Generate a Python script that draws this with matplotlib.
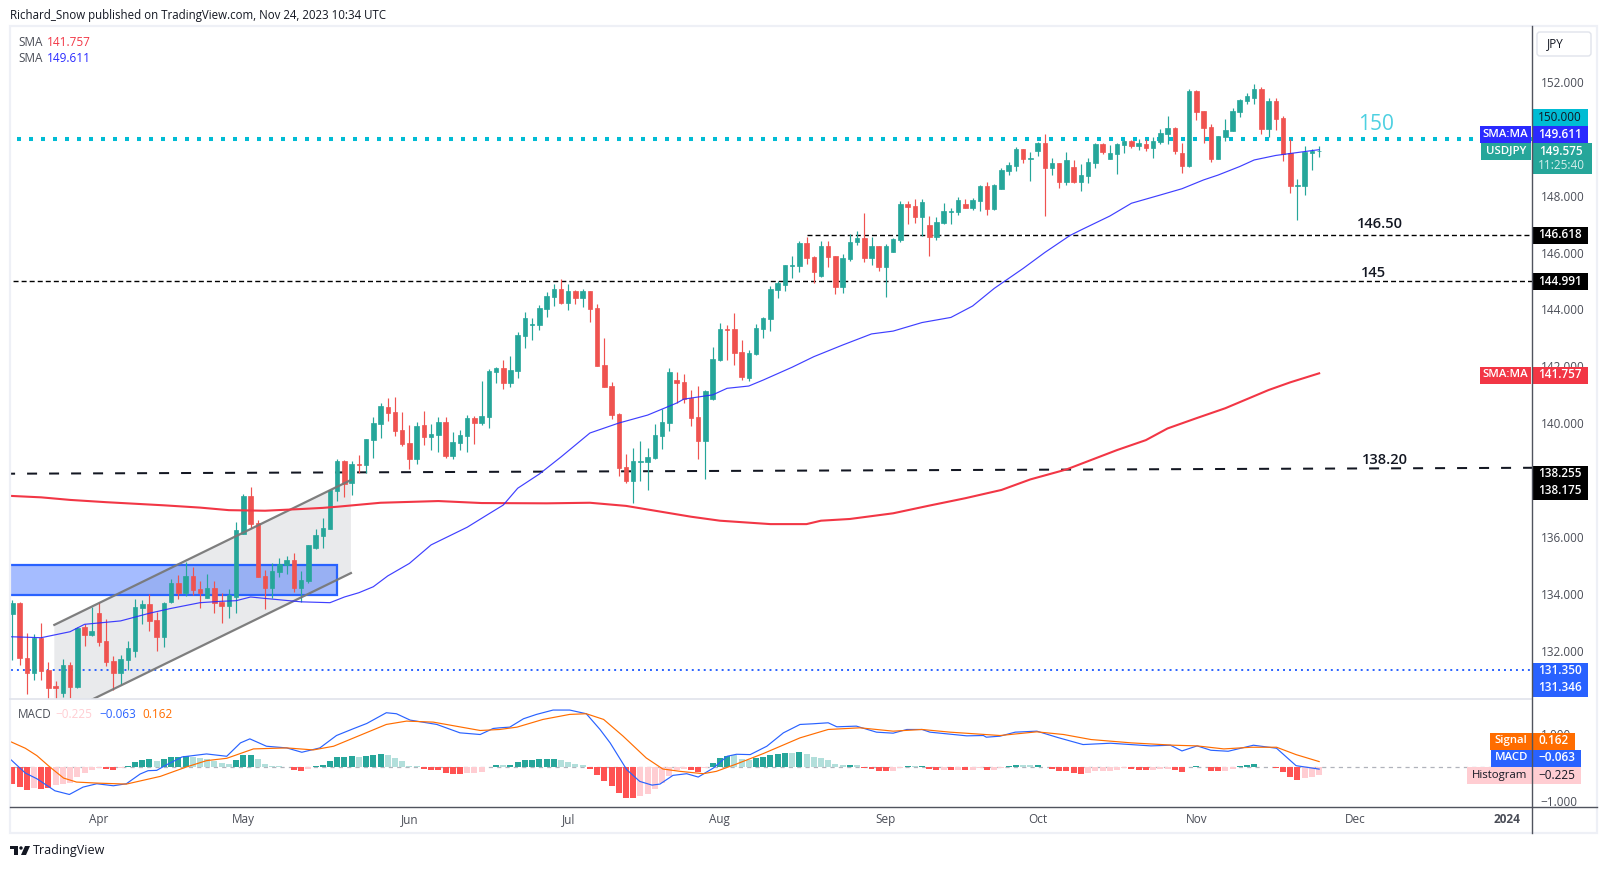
import matplotlib
matplotlib.use("Agg")
import matplotlib.pyplot as plt
from matplotlib.patches import Rectangle, Polygon, FancyBboxPatch, Circle

plt.rcParams['font.family'] = ['Open Sans', 'DejaVu Sans']
plt.rcParams['lines.scale_dashes'] = False

open_ = [133.32,133.68,131.76,131.24,132.47,131.35,130.76,130.53,131.51,130.75,
 132.84,132.55,133.34,132.35,131.65,131.23,131.69,132.00,133.51,133.65,
 133.09,132.50,133.72,134.39,134.04,134.64,134.18,133.87,134.22,133.72,
 133.58,133.90,136.11,137.45,136.50,134.64,134.22,134.78,135.02,135.20,
 134.22,134.46,135.62,136.04,136.29,137.62,138.68,137.90,138.57,138.54,
 139.41,139.98,140.57,140.40,139.77,139.31,138.75,139.94,139.52,139.59,
 140.05,138.85,139.31,139.55,140.19,140.01,140.22,141.80,141.94,141.42,
 141.84,143.07,143.47,143.45,144.02,144.44,144.72,144.23,144.65,144.40,
 144.65,144.05,142.05,141.31,140.33,138.47,137.97,138.65,138.64,138.78,
 139.55,140.01,141.52,141.45,140.89,140.22,139.38,140.85,142.22,143.31,
 143.31,142.50,141.59,142.44,143.31,143.66,144.68,144.86,145.54,145.53,
 146.33,145.84,145.17,146.23,145.88,144.79,145.77,146.37,146.51,145.81,
 146.23,145.49,146.02,146.44,147.70,147.63,147.25,146.97,146.55,147.04,
 147.43,147.42,147.70,147.56,147.81,148.34,147.53,148.23,148.86,149.04,
 149.64,149.30,149.57,149.85,148.97,149.14,148.48,149.00,148.48,148.69,
 149.14,149.81,149.28,149.46,149.78,149.92,149.74,149.81,149.67,149.88,
 150.16,150.37,149.49,149.04,151.67,150.97,150.41,149.28,150.06,150.27,
 150.94,151.32,151.43,151.74,150.34,151.32,150.72,149.49,148.35,148.34,149.50,149.55]
high = [133.80,133.71,132.62,132.59,132.99,131.61,130.95,131.72,131.63,132.86,
 132.95,133.54,133.71,133.13,131.83,131.86,132.35,133.83,133.79,134.00,
 133.37,133.72,134.52,134.67,135.13,134.95,134.46,134.71,134.46,134.04,
 134.18,136.54,137.52,137.76,136.61,134.85,135.10,135.27,135.34,135.45,
 134.81,135.73,136.29,136.68,137.69,138.75,138.71,138.68,138.89,139.45,
 140.22,140.71,140.89,140.92,140.40,139.94,140.05,140.43,139.98,140.22,
 140.22,139.70,139.77,140.29,140.26,141.49,141.91,141.98,142.23,142.36,
 143.21,143.90,143.70,144.16,144.61,144.89,145.07,144.89,144.68,144.72,
 144.65,144.19,143.00,141.45,140.36,138.92,139.13,139.38,139.13,139.98,
 140.50,141.94,141.80,141.73,141.17,141.31,141.17,142.68,143.52,143.45,
 143.88,142.93,142.58,143.49,143.73,144.82,145.00,145.56,145.88,146.40,
 146.55,145.88,146.40,146.40,145.88,145.95,146.65,146.75,147.39,146.55,
 146.23,146.30,146.51,147.81,147.81,147.88,147.88,147.28,147.25,147.74,
 147.56,147.95,147.88,147.91,148.37,148.48,148.41,148.97,149.18,149.71,
 149.64,149.53,149.88,150.16,149.32,149.14,149.53,149.25,149.11,149.32,
 149.85,149.85,149.78,149.85,149.95,149.95,149.99,149.99,150.06,150.34,
 150.79,150.41,149.85,151.74,151.71,150.97,150.51,150.09,150.69,151.08,
 151.39,151.60,151.92,151.81,151.43,151.43,150.79,149.99,148.58,149.74,149.62,149.75]
low = [131.69,131.51,130.49,130.99,130.99,130.32,130.32,130.40,130.35,130.70,
 132.18,132.53,132.18,131.48,130.63,130.81,131.34,131.79,132.95,132.71,
 132.00,132.14,133.69,133.83,133.94,133.97,133.51,133.87,133.34,132.99,
 133.16,133.34,136.11,136.31,134.60,133.48,133.87,134.60,134.71,134.08,
 133.72,134.39,135.59,135.62,136.29,137.27,137.41,137.48,138.24,138.24,
 138.78,139.49,140.08,139.55,139.20,138.40,138.57,139.24,139.06,138.99,
 138.78,138.75,139.06,138.99,139.27,139.94,139.84,141.42,141.21,141.28,
 141.59,142.65,142.93,143.28,143.74,144.12,144.19,143.98,144.19,144.09,
 143.56,142.01,141.28,140.15,138.15,137.90,137.20,137.97,137.66,138.75,
 139.10,139.73,140.71,140.71,139.91,138.75,138.04,140.82,142.19,142.22,
 142.05,141.52,141.49,142.40,143.00,143.24,144.40,144.65,145.10,145.31,
 145.60,144.93,145.14,145.49,144.54,144.58,145.70,146.26,145.67,145.56,
 145.35,144.44,146.02,146.37,147.00,147.04,146.58,145.88,146.44,147.00,
 147.00,147.32,147.56,147.49,147.46,147.32,147.49,148.23,148.72,148.86,
 149.14,148.51,149.39,147.28,148.72,148.27,148.37,148.44,148.16,148.44,
 148.97,149.46,149.28,148.76,149.49,149.67,149.60,149.57,149.32,149.81,
 149.81,149.46,148.79,149.00,150.65,149.85,149.18,149.28,149.92,150.27,
 150.76,151.22,151.22,150.16,150.06,150.30,149.21,148.09,147.14,148.02,148.90,149.35]
close = [133.68,131.76,131.24,132.47,131.31,130.70,130.72,131.51,130.75,132.81,
 132.57,132.71,132.32,131.62,131.23,131.72,132.11,133.55,133.65,133.06,
 132.50,133.69,134.39,134.04,134.64,134.15,134.04,134.22,133.69,133.58,
 133.97,136.25,137.45,136.47,134.60,134.22,134.81,135.06,135.20,134.22,
 134.50,135.73,136.08,136.32,137.66,138.68,137.87,138.57,138.55,139.45,
 140.01,140.61,140.36,139.73,139.27,138.75,139.91,139.52,139.63,140.05,
 138.85,139.33,139.59,140.19,140.01,140.26,141.84,141.94,141.42,141.87,
 143.10,143.70,143.49,144.05,144.47,144.72,144.23,144.65,144.40,144.65,
 144.02,142.01,141.28,140.29,138.43,137.97,138.68,138.68,138.82,139.59,
 140.05,141.80,141.42,140.85,140.19,139.38,141.14,142.26,143.31,143.29,
 142.47,141.63,142.47,143.35,143.70,144.72,144.93,145.56,145.56,146.33,
 145.81,145.31,146.23,145.84,144.79,145.81,146.37,146.51,145.81,146.23,
 145.49,146.23,146.47,147.70,147.60,147.25,147.77,146.55,147.07,147.46,
 147.46,147.84,147.56,147.84,148.34,147.53,148.37,148.90,149.07,149.64,
 149.28,149.31,149.85,148.97,149.14,148.48,149.25,148.48,148.72,149.18,
 149.81,149.53,149.49,149.81,149.92,149.74,149.85,149.67,149.92,150.20,
 150.37,149.57,149.04,151.67,150.94,150.37,149.28,150.09,150.30,150.97,
 151.36,151.50,151.74,150.34,151.32,150.69,149.46,148.34,148.37,149.53,149.55,149.575]

sma50_x = [-1,4,8,10,15,19,22,26,29,31,33,35,40,44,46,48,50,52,55,58,63,66,68,70,73,76,80,84,88,
 92,93,97,99,102,104,108,111,115,119,122,126,130,133,136,140,143,146.5,148,152,155,159,162,
 165,167,170,172,175,180,181]
sma50_y = [132.51,132.47,132.68,132.94,133.06,133.33,133.50,133.70,133.75,133.77,133.90,133.85,
 133.73,133.70,133.90,134.05,134.26,134.64,135.08,135.73,136.35,136.82,137.13,137.72,138.22,
 138.82,139.66,140.01,140.29,140.71,140.85,141.00,141.23,141.31,141.52,141.97,142.34,142.75,
 143.14,143.24,143.54,143.72,144.12,144.74,145.44,146.00,146.60,146.79,147.28,147.73,148.02,
 148.24,148.55,148.72,149.02,149.25,149.41,149.58,149.611]
sma200_x = [-1,4,8,13,21,26,30,35,40,43,45,51,59,65,74,80,85,94,98,105,110,112,116,122,127,132,137,
 141,146,153,157,160,164,168,174,177,181]
sma200_y = [137.46,137.40,137.31,137.23,137.12,137.04,136.95,136.93,136.99,137.03,137.07,137.21,
 137.27,137.20,137.19,137.21,137.10,136.72,136.58,136.46,136.46,136.58,136.64,136.84,137.11,137.37,
 137.66,138.03,138.38,139.06,139.41,139.82,140.18,140.53,141.17,141.44,141.757]

hist = [-.50,-.60,-.68,-.63,-.66,-.64,-.53,-.50,-.47,-.29,-.17,-.08,-.03,-.05,-.08,-.04,.02,.16,.22,.25,
 .19,.25,.31,.31,.34,.31,.28,.25,.19,.11,.10,.22,.37,.37,.25,.10,.04,.03,.01,-.08,
 -.11,-.05,.04,.07,.19,.31,.31,.34,.31,.34,.37,.40,.37,.28,.19,.04,.04,-.05,-.08,-.08,
 -.17,-.20,-.20,-.17,-.17,-.14,-.01,.07,.07,.07,.16,.22,.22,.25,.25,.25,.22,.16,.10,.07,
 -.05,-.23,-.41,-.56,-.77,-.92,-.92,-.86,-.80,-.65,-.47,-.26,-.08,-.06,-.08,-.14,-.04,.13,.28,.34,
 .37,.25,.22,.28,.31,.37,.40,.43,.43,.46,.40,.31,.28,.22,.10,.07,.07,.07,-.02,-.05,
 -.11,-.11,-.11,-.02,.04,.04,.04,-.05,-.08,-.08,-.08,-.08,-.08,-.08,-.04,-.08,-.08,-.02,.04,.07,
 .07,.05,.07,.01,-.05,-.11,-.11,-.17,-.20,-.17,-.11,-.11,-.11,-.08,-.04,-.05,-.08,-.08,-.08,-.05,
 -.05,-.08,-.14,-.01,.04,.01,-.11,-.11,-.11,-.05,.04,.07,.10,.01,.01,-.04,-.14,-.29,-.38,-.32,-.29,-.225]
hist_tone = list(
 "RRRLRRLLLL" "LLLRRLGGGG"
 "gGGGGggggg" "gGGGgggggR"
 "RLGGGGGGgG" "GGgggggRRR"
 "RRRLLLLGgG" "GGGGGGgggg"
 "RRRRRRRLLL" "LLLLRRLGGG"
 "gggGGGGGgG" "ggggggGgRR"
 "RRLLGgGRRL" "RLRLLRLLGG"
 "ggGgRRRRRL" "LLLLLRRRLL"
 "LRRLGgRRLL" "GGGgGRRRRLLL")

macd_x = [-1,1.8,3.4,5.9,7.9,9.8,11.7,14,15.8,17.7,18.8,20,21.4,23.5,26.9,29.7,31.6,32.9,35.2,38,40.1,
 42.6,44.9,47.2,49.1,51.8,53.2,55.1,58.8,62,64.8,66.6,67.5,68.9,70.8,72.6,74.9,77.2,79.5,81.4,82.8,
 85.1,86.9,88.6,89.7,91.5,93.4,95,97.1,99,100.3,102.2,104.5,106.8,109.1,110.9,113,114.2,116.9,119.7,
 122,123.9,126,127.1,129.9,132.2,134.5,134.9,136.8,138.9,141.9,144.8,148.3,152.1,157.7,160.4,162,
 164.1,166,168.4,171.9,175.1,177.8,181]
macd_y = [.38,-.18,-.35,-.71,-.82,-.60,-.50,-.56,-.50,-.21,-.11,-.10,.07,.30,.39,.32,.72,.84,.62,.57,.44,
 .57,.94,1.14,1.30,1.62,1.59,1.40,1.27,1.02,.97,1.15,1.17,1.19,1.44,1.57,1.70,1.70,1.59,1.12,.72,
 -.08,-.43,-.54,-.51,-.25,-.20,-.30,-.03,.32,.38,.37,.62,1.02,1.27,1.29,1.32,1.20,1.22,1.04,
 1.01,1.12,1.12,1.04,.98,.93,.94,.89,.92,1.04,1.07,.88,.67,.71,.63,.65,.48,
 .63,.50,.47,.65,.56,.04,-.063]
signal_x = [-1,1.8,3.4,5.2,7.1,8.9,11.7,15.8,20.5,24.1,26.9,29.7,33.4,38,41.7,44.5,51.8,54.6,58.3,64.8,
 67.5,69.9,73.5,77.2,79.5,81.9,84.6,87.8,90.1,92.5,95.7,97.5,100.3,104,109.1,113,117.4,122,126,129.9,
 136.8,141.9,145.6,149.4,155,160.9,164.1,167.8,171.6,175.1,177.8,181]
signal_y = [.83,.56,.34,0,-.33,-.45,-.48,-.51,-.28,0,.19,.26,.54,.57,.51,.62,1.27,1.37,1.34,1.09,
 1.12,1.19,1.42,1.57,1.59,1.42,.92,.27,-.06,-.13,-.20,-.13,.09,.40,.87,1.12,1.17,1.07,1.12,1.04,
 .94,1.05,.97,.82,.72,.65,.63,.54,.59,.59,.37,.162]

month_labels = ['Apr','May','Jun','Jul','Aug','Sep','Oct','Nov','Dec','2024']
month_pos = [12,32,55,77,98,121,142,164,186,207]
price_ticks = [152,148,146,144,142,140,136,134,132]
macd_ticks = [1,-1]
channel_x = [5.82,46.9,46.9,5.82]
channel_y = [132.92,138.01,134.74,129.65]
zone_x = [-5,45]
zone_y = [133.97,135.03]
trend_x = [-1,212]
trend_y = [138.23,138.44]

W,H = 1606,869
GREEN,RED = '#26a69a','#ef5350'
TXT = '#4a4d57'
FS = 8.5
fig = plt.figure(figsize=(W/100,H/100),dpi=100,facecolor='white')
def box(l,t,r,b): return [l/W,1-b/H,(r-l)/W,(b-t)/H]
ax = fig.add_axes(box(10,26,1532,699))
ax2 = fig.add_axes(box(10,699,1532,807))
for a in (ax,ax2):
    a.set_xlim(-0.319,210.48)
    for s in a.spines.values(): s.set_visible(False)
    a.yaxis.tick_right()
ax.set_ylim(130.317,153.956)
ax2.set_ylim(-1.194,2.03)

# drawings under candles
ax.add_patch(Polygon(list(zip(channel_x,channel_y)),closed=True,fc='#9598a1',alpha=.2,ec='none',zorder=1))
ax.plot(channel_x[:2],channel_y[:2],color='#787878',lw=1.6,zorder=4,alpha=.95)
ax.plot(channel_x[2:],channel_y[2:],color='#787878',lw=1.6,zorder=4,alpha=.95)
ax.add_patch(Rectangle((zone_x[0],zone_y[0]),zone_x[1]-zone_x[0],zone_y[1]-zone_y[0],fc=(0.16,0.38,1,.42),ec='#2962ff',lw=1.6,zorder=2))
ax.plot([-1,212],[150,150],color='#00bcd4',lw=2.9,dashes=(2.88,5.76),dash_capstyle='butt',zorder=2)
ax.plot(trend_x,trend_y,color='#131722',lw=1.45,dashes=(7.2,8.64),dash_capstyle='butt',zorder=2)
ax.plot([-1,212],[144.991,144.991],color='black',lw=1,dashes=(3.6,2.2),dash_capstyle='butt',zorder=2)
ax.plot([110,212],[146.618,146.618],color='black',lw=1,dashes=(3.6,2.2),dash_capstyle='butt',zorder=2)
ax.plot([-1,212],[131.35,131.35],color='#2962ff',lw=1.4,dashes=(1.4,2.9),dash_capstyle='butt',zorder=2)

# candles
n = len(close)
xs = list(range(n))
cols = [GREEN if c>=o else RED for o,c in zip(open_,close)]
ax.vlines(xs,low,high,colors=cols,lw=0.85,zorder=3)
ax.bar(xs,[abs(c-o) for o,c in zip(open_,close)],bottom=[min(o,c) for o,c in zip(open_,close)],
       width=0.62,color=cols,edgecolor=cols,linewidth=0.5,zorder=3)
ax.plot(sma200_x,sma200_y,color='#f23645',lw=1.5,zorder=5,solid_joinstyle='round')
ax.plot(sma50_x,sma50_y,color='#2a2aff',lw=0.85,zorder=5,alpha=.9)

ax.set_xticks([])
ax.set_yticks(price_ticks)
ax.set_yticklabels([f'{t:.3f}' for t in price_ticks],fontsize=FS,color=TXT)
ax.tick_params(axis='y',length=0,pad=6.2)

# MACD
tones = {'R':'#ff5252','L':'#ffcdd2','G':'#26a69a','g':'#b2dfdb'}
ax2.bar(range(len(hist)),hist,width=0.83,color=[tones[t] for t in hist_tone],zorder=2)
ax2.plot([-1,212],[0,0],color='#b0b3bb',lw=0.9,dashes=(3,3),zorder=1)
ax2.plot(macd_x,macd_y,color='#2962ff',lw=0.85,zorder=3)
ax2.plot(signal_x,signal_y,color='#ff6d00',lw=0.85,zorder=3)
ax2.set_yticks(macd_ticks)
ax2.set_yticklabels(['1.000','\u22121.000'],fontsize=FS,color=TXT)
ax2.tick_params(axis='y',length=0,pad=6.2)
ax2.set_xticks(month_pos)
ax2.set_xticklabels(month_labels,fontsize=FS,color=TXT)
ax2.tick_params(axis='x',length=0,pad=4.5)
ax2.get_xticklabels()[-1].set_fontweight('bold')

# overlay in pixels
ov = fig.add_axes([0,0,1,1],zorder=10)
ov.set_xlim(0,W); ov.set_ylim(H,0); ov.axis('off'); ov.patch.set_alpha(0)
ov.add_patch(Rectangle((10,26),1587,807,fc='none',ec='#eef0f6',lw=1.6))
ov.plot([10,1532],[699,699],color='#e0e3eb',lw=1.2)
ov.plot([10,1597],[807,807],color='#50535e',lw=1)
ov.plot([1532,1532],[26,833],color='#50535e',lw=1)
ov.add_patch(FancyBboxPatch((1537,32),54,24,boxstyle='round,pad=0,rounding_size=3',fc='white',ec='#e0e3eb',lw=1))
ov.text(1555,44,'JPY',fontsize=FS,color='#131722',ha='center',va='center')

def tag(x0,x1,yc,txt,bg,fg,h=17,w=None,fs=FS):
    ov.add_patch(Rectangle((x0,yc-h/2),x1-x0,h,fc=bg,ec='none'))
    ov.text((x0+x1)/2,yc-.3,txt,color=fg,fontsize=fs,ha='center',va='center',fontweight=w)

tag(1532,1588,117.7,'150.000','#00bcd4','#131722')
tag(1480,1531,134.5,'SMA:MA','#2a2aff','white',fs=8.2,w='semibold')
tag(1532,1588,134.5,'149.611','#2a2aff','white',w='semibold')
tag(1481,1531,151.5,'USDJPY','#26a69a','white',fs=8.2,w='semibold')
ov.add_patch(Rectangle((1532,143),60,31,fc='#26a69a',ec='none'))
ov.text(1561,151.5,'149.575',color='white',fontsize=FS,ha='center',va='center',fontweight='semibold')
ov.text(1561,165.3,'11:25:40',color='#d6efec',fontsize=FS,ha='center',va='center')
tag(1532,1588,235.3,'146.618','black','white',w='semibold')
tag(1532,1588,281.5,'144.991','black','white',w='semibold')
tag(1480,1531,375,'SMA:MA','#f23645','white',fs=8.2,w='semibold')
tag(1532,1588,375,'141.757','#f23645','white',w='semibold')
tag(1532,1588,474,'138.255','black','white',w='semibold')
tag(1532,1588,491,'138.175','black','white',w='semibold')
tag(1532,1588,671,'131.350','#2962ff','white',w='semibold')
tag(1532,1588,688,'131.346','#2962ff','white',w='semibold')
tag(1490,1532,741,'Signal','#ff6d00','white',fs=8.2,w='semibold')
tag(1532,1575,741,'0.162','#ff6d00','white',w='semibold')
tag(1491,1532,758,'MACD','#2962ff','white',fs=8.2,w='semibold')
tag(1532,1581,758,'\u22120.063','#2962ff','white',w='semibold')
tag(1467,1532,775.5,'Histogram','#ffcdd2','#131722',fs=8.2)
tag(1532,1581,775.5,'\u22120.225','#ffcdd2','#131722')

# annotations on the chart
ov.text(1376,125,'150',fontsize=15,color='#4dd0e1',ha='center',va='center',fontweight='medium')
ov.text(1380,224.5,'146.50',fontsize=10.5,color='#131722',ha='center',va='center',fontweight='semibold')
ov.text(1373,273,'145',fontsize=10.5,color='#131722',ha='center',va='center',fontweight='semibold')
ov.text(1385,460,'138.20',fontsize=10.5,color='#131722',ha='center',va='center',fontweight='semibold')

# header and legends
ov.text(10,15,'Richard_Snow published on TradingView.com, Nov 24, 2023 10:34 UTC',fontsize=8.3,color='#131722',ha='left',va='center')
ov.text(18,42,'SMA',fontsize=FS,color=TXT,va='center')
ov.text(47,42,'141.757',fontsize=FS,color='#f23645',va='center')
ov.text(18,59,'SMA',fontsize=FS,color=TXT,va='center')
ov.text(47,59,'149.611',fontsize=FS,color='#2a2aff',va='center')
ov.text(18,715,'MACD',fontsize=FS,color=TXT,va='center')
ov.text(55,715,'\u22120.225',fontsize=FS,color='#ffcdd2',va='center')
ov.text(99,715,'\u22120.063',fontsize=FS,color='#2962ff',va='center')
ov.text(142,715,'0.162',fontsize=FS,color='#ff6d00',va='center')

# footer logo
ov.add_patch(Rectangle((10,846),8,3,fc='#131722',ec='none'))
ov.add_patch(Rectangle((14,846),4,9,fc='#131722',ec='none'))
ov.add_patch(Circle((21,848),1.7,fc='#131722',ec='none'))
ov.add_patch(Polygon([(25,846),(30,846),(26,855),(21,855)],closed=True,fc='#131722',ec='none'))
ov.text(33,850.5,'TradingView',fontsize=9,color='#131722',va='center',fontweight='medium')

fig.savefig('out.png',dpi=100,facecolor='white')
